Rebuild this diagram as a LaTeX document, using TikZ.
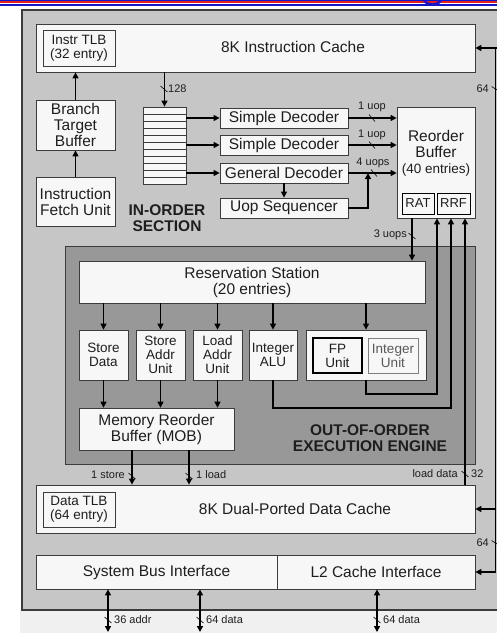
\documentclass[tikz,border=0pt]{standalone}
\usepackage{fontspec}
\setmainfont{Liberation Sans}
\usetikzlibrary{arrows.meta,fit}
\definecolor{outerg}{RGB}{198,198,198}
\definecolor{darkg}{RGB}{152,152,152}
\definecolor{boxf}{RGB}{247,247,247}
\definecolor{stripc}{RGB}{240,240,240}
\definecolor{linec}{RGB}{60,60,60}
\definecolor{txt}{RGB}{30,30,30}
\definecolor{slideblue}{RGB}{20,20,200}
\definecolor{slidered}{RGB}{230,30,30}
\tikzset{
 blk/.style={draw=linec, fill=boxf, line width=0.8pt, inner sep=0pt},
 arr/.style={line width=1.3pt, draw=black, -{Triangle[length=6pt,width=6pt]}},
 darr/.style={line width=1.3pt, draw=black, {Triangle[length=6pt,width=6pt]}-{Triangle[length=6pt,width=6pt]}},
 wire/.style={line width=1.3pt, draw=black},
 tick/.style={line width=0.6pt, draw=black},
 lbl/.style={font=\fontsize{11}{12}\selectfont, text=txt, inner sep=0pt},
 big/.style={font=\fontsize{15.5}{16}\selectfont, text=txt, align=center, inner sep=0pt},
 unitf/.style={font=\fontsize{13.5}{14}\selectfont, text=txt, align=center, inner sep=0pt},
 hdr/.style={font=\fontsize{15.5}{16}\selectfont\bfseries, text=txt, align=center},
 qline/.style={draw=linec, line width=0.8pt},
}
\begin{document}
\begin{tikzpicture}[x=1pt,y=-1pt]
\useasboundingbox (0,0) rectangle (497,633);
\fill[white] (0,0) rectangle (497,633);
% slide header remnants
\draw[slideblue, line width=0.6pt] (0,0.4) -- (497,0.4);
\draw[slidered, line width=1.4pt] (0,2) -- (497,2);
\draw[slideblue, line width=1.3pt] (0,5) -- (497,5);
\draw[slideblue, line width=2.4pt] (423,-3) arc (180:0:9.5 and 7.5);
% outer chip area
\fill[stripc] (20,610) rectangle (497,633);
\fill[outerg] (22,10) rectangle (497,610);
\draw[line width=1.2pt, draw=linec] (497,10) -- (22,10) -- (22,610) -- (497,610);

% instruction cache
\node[blk, fit={(36,24) (475,72)}] (icache) {};
\node[big] (ictext) at (293,47) {8K Instruction Cache};
\node[blk, fit={(43,30) (115,66)}, label={[unitf]center:{Instr TLB\\(32 entry)}}] (itlb) {};

% fetch
\node[blk, fit={(36,100) (115,150)}, label={[big]center:{Branch\\Target\\Buffer}}] (btb) {};
\node[blk, fit={(36,177) (115,226)}, label={[big]center:{Instruction\\Fetch Unit}}] (ifu) {};

% instruction queue
\node[blk, fit={(143,107) (186,184)}] (queue) {};
\foreach \k in {1,...,10} \draw[qline] (143,{107+7*\k}) -- (186,{107+7*\k});

% decoders
\node[blk, fit={(220,108) (348,128)}, label={[big]center:{Simple Decoder}}] (sd1) {};
\node[blk, fit={(220,135) (348,155)}, label={[big]center:{Simple Decoder}}] (sd2) {};
\node[blk, fit={(220,163) (348,183)}, label={[big]center:{General Decoder}}] (gd) {};
\node[blk, fit={(220,198) (348,218)}, label={[big]center:{Uop Sequencer}}] (useq) {};

% reorder buffer
\node[blk, fit={(397,107) (475,218)}] (rob) {};
\node[big] (robtext) at (436,153) {Reorder\\Buffer\\{\fontsize{13.5}{15}\selectfont(40 entries)}};
\node[blk, draw=black, line width=0.9pt, fit={(402,193) (434,214)}, label={[font=\fontsize{13}{14}\selectfont, text=txt]center:RAT}] (rat) {};
\node[blk, draw=black, line width=0.9pt, fit={(437,193) (470,214)}, label={[font=\fontsize{13}{14}\selectfont, text=txt]center:RRF}] (rrf) {};

\node[hdr] (inorder) at (167,218) {IN-ORDER\\SECTION};

% out-of-order engine
\node[draw=linec, fill=darkg, line width=0.9pt, inner sep=0pt, fit={(65,246) (475,464)}] (ooo) {};
\node[blk, fit={(79,261) (425,303)}, label={[big]center:{Reservation Station\\(20 entries)}}] (rs) {};
\node[blk, fit={(79,330) (128,380)}, label={[unitf]center:{Store\\Data}}] (stdata) {};
\node[blk, fit={(136,330) (185,380)}, label={[unitf]center:{Store\\Addr\\Unit}}] (staddr) {};
\node[blk, fit={(193,330) (242,380)}, label={[unitf]center:{Load\\Addr\\Unit}}] (ldaddr) {};
\node[blk, fit={(249,330) (297,380)}, label={[unitf]center:{Integer\\ALU}}] (ialu) {};
\node[blk, fit={(306,330) (426,380)}] (fpint) {};
\node[blk, draw=black, line width=1.2pt, fit={(313,338) (362,373)}, label={[unitf]center:{FP\\Unit}}] (fpu) {};
\node[blk, draw=gray, fit={(368,338) (418,373)}, label={[unitf, text=black!65]center:{Integer\\Unit}}] (iu) {};
\node[blk, fit={(79,408) (234,450)}, label={[big]center:{Memory Reorder\\Buffer (MOB)}}] (mob) {};
\node[hdr] (ooolbl) at (370,438) {OUT-OF-ORDER\\EXECUTION ENGINE};

% data cache and interfaces
\node[blk, fit={(36,485) (475,533)}] (dcache) {};
\node[big] (dctext) at (295,509) {8K Dual-Ported Data Cache};
\node[blk, fit={(43,492) (115,527)}, label={[unitf]center:{Data TLB\\(64 entry)}}] (dtlb) {};
\node[blk, fit={(36,555) (277,589)}, label={[big]center:{System Bus Interface}}] (sbi) {};
\node[blk, fit={(277,555) (475,589)}, label={[big]center:{L2 Cache Interface}}] (l2i) {};

% ---------- connectors ----------
\draw[arr] (btb.north) -- (btb.north |- icache.south);
\draw[arr] (ifu.north) -- (btb.south);
\draw[arr] (queue.north |- icache.south) -- (queue.north);
\draw[tick] (164,89) ++(-3.5,-3) -- ++(7,6);
\node[lbl, anchor=west] (l128) at (168,89) {128};

\draw[arr] (queue.east |- sd1) -- (sd1.west);
\draw[arr] (queue.east |- sd2) -- (sd2.west);
\draw[arr] (queue.east |- gd) -- (gd.west);

\draw[arr] (sd1.east) -- (sd1.east -| rob.west);
\draw[arr] (sd2.east) -- (sd2.east -| rob.west);
\draw[arr] (gd.east) -- (gd.east -| rob.west);
\draw[arr] (gd.south) -- (useq.north);
\coordinate (junc) at (368,173);
\draw[arr] (useq.east) -| (junc);
\draw[tick] (372,118) ++(-3,-3.5) -- ++(6,7);
\draw[tick] (372,145) ++(-3,-3.5) -- ++(6,7);
\draw[tick] (374,173) ++(-3,-3.5) -- ++(6,7);
\node[lbl] (u1) at (372,107) {1 uop};
\node[lbl] (u2) at (372,135) {1 uop};
\node[lbl] (u4) at (373,163) {4 uops};

% ROB to reservation station
\coordinate (robout) at (412,218);
\draw[arr] (robout) -- (robout |- rs.north);
\draw[tick] (412,236) ++(-3.5,-3) -- ++(7,6);
\node[lbl, anchor=east] (u3) at (407,235) {3 uops};

% RS to units
\draw[arr] (stdata.north |- rs.south) -- (stdata.north);
\draw[arr] (staddr.north |- rs.south) -- (staddr.north);
\draw[arr] (ldaddr.north |- rs.south) -- (ldaddr.north);
\draw[arr] (ialu.north |- rs.south) -- (ialu.north);
\draw[arr] (fpint.north |- rs.south) -- (fpint.north);

% units to MOB
\draw[arr] (stdata.south) -- (stdata.south |- mob.north);
\draw[arr] (staddr.south) -- (staddr.south |- mob.north);
\draw[arr] (ldaddr.south) -- (ldaddr.south |- mob.north);

% MOB to data cache
\coordinate (st) at (132,450);
\coordinate (ld) at (189,450);
\draw[arr] (st) -- (st |- dcache.north);
\draw[arr] (ld) -- (ld |- dcache.north);
\draw[tick] (132,476) ++(-3.5,-3) -- ++(7,6);
\draw[tick] (189,476) ++(-3.5,-3) -- ++(7,6);
\node[lbl, anchor=east] (lst) at (125,475) {1 store};
\node[lbl, anchor=west] (lld) at (196,475) {1 load};

% results back to ROB
\coordinate (fpc) at (437,394);
\draw[arr] (fpint.south) |- (fpc) -- (fpc |- rob.south);
\coordinate (alc) at (451,408);
\draw[arr] (ialu.south) |- (alc) -- (alc |- rob.south);
\coordinate (ldc) at (465,485);
\draw[arr] (ldc) -- (ldc |- rob.south);
\draw[tick] (465,474) ++(-3.5,-3) -- ++(7,6);
\node[lbl, anchor=east] (ldd) at (458,474) {load data};
\node[lbl, anchor=west] (l32) at (471,474) {32};

% right-hand bus
\coordinate (r1) at (495.5,48);
\coordinate (r2) at (495.5,509);
\coordinate (r3) at (495.5,572);
\draw[wire] (r1) -- (r3);
\draw[wire] (r1) -- ++(2,0);
\draw[arr] (r1) -- (icache.east);
\draw[arr] (r2) -- (dcache.east);
\draw[arr] (r3) -- (l2i.east);
\draw[tick] (495.5,89) ++(-4,-2.5) -- ++(8,5);
\draw[tick] (495.5,543) ++(-4,-2.5) -- ++(8,5);
\node[lbl, anchor=east] (l64a) at (489,89) {64};
\node[lbl, anchor=east] (l64b) at (489,543) {64};

% external buses
\coordinate (b1) at (108,632);
\coordinate (b2) at (200,632);
\coordinate (b3) at (377,632);
\draw[darr] (b1 |- sbi.south) -- (b1);
\draw[darr] (b2 |- sbi.south) -- (b2);
\draw[darr] (b3 |- l2i.south) -- (b3);
\draw[tick] (108,620) ++(-3.5,-3) -- ++(7,6);
\draw[tick] (200,620) ++(-3.5,-3) -- ++(7,6);
\draw[tick] (377,620) ++(-3.5,-3) -- ++(7,6);
\node[lbl, anchor=west] (a36) at (114,620) {36 addr};
\node[lbl, anchor=west] (d64a) at (206,620) {64 data};
\node[lbl, anchor=west] (d64b) at (383,620) {64 data};
\end{tikzpicture}
\end{document}
